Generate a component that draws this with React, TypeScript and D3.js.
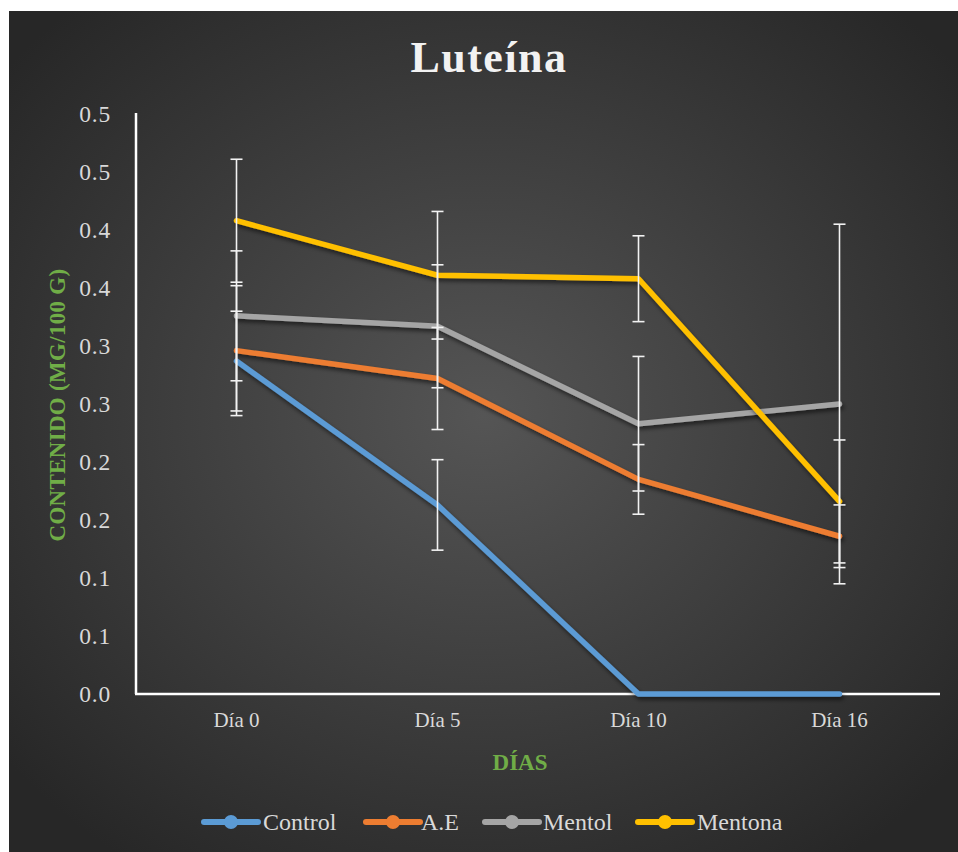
import React from "react";
import * as d3 from "d3";

const categories = ["Día 0", "Día 5", "Día 10", "Día 16"];
const seriesNames = ["Control", "A.E", "Mentol", "Mentona"];
const seriesColors = ["#5B9BD5", "#ED7D31", "#A5A5A5", "#FFC000"];
const controlValues = [0.287, 0.163, 0, 0];
const controlErrors = [0.043, 0.039, 0, 0];
const aeValues = [0.296, 0.272, 0.185, 0.136];
const aeErrors = [0.056, 0.044, 0.030, 0.027];
const mentolValues = [0.326, 0.317, 0.233, 0.250];
const mentolErrors = [0.056, 0.053, 0.058, 0.155];
const mentonaValues = [0.408, 0.361, 0.358, 0.166];
const mentonaErrors = [0.053, 0.055, 0.037, 0.053];
const yTickValues = [0, 0.05, 0.1, 0.15, 0.2, 0.25, 0.3, 0.35, 0.4, 0.45, 0.5];
const yTickLabels = ["0.0", "0.1", "0.1", "0.2", "0.2", "0.3", "0.3", "0.4", "0.4", "0.5", "0.5"];

const W = 958;
const H = 852;
const plot = { left: 136, right: 940, top: 114, bottom: 694 };
const serif = "'Liberation Serif', 'Times New Roman', serif";
const green = "#70AD47";

export default function App() {
  const x = d3.scalePoint<string>().domain(categories).range([plot.left, plot.right]).padding(0.5);
  const y = d3.scaleLinear().domain([0, 0.5]).range([plot.bottom, plot.top]);
  const series = [
    { name: seriesNames[0], color: seriesColors[0], values: controlValues, errors: controlErrors },
    { name: seriesNames[1], color: seriesColors[1], values: aeValues, errors: aeErrors },
    { name: seriesNames[2], color: seriesColors[2], values: mentolValues, errors: mentolErrors },
    { name: seriesNames[3], color: seriesColors[3], values: mentonaValues, errors: mentonaErrors },
  ];
  const line = d3
    .line<number>()
    .x((_, i) => x(categories[i]) as number)
    .y((d) => y(d));

  const legendItems = [
    { lx: 204, tx: 263 },
    { lx: 366, tx: 421 },
    { lx: 485, tx: 543 },
    { lx: 638, tx: 697 },
  ];

  return (
    <div style={{ position: "absolute", left: 0, top: 0 }}>
      <svg width={W} height={H} style={{ display: "block" }}>
        <defs>
          <radialGradient id="bg" cx="50%" cy="48%" r="65%">
            <stop offset="0%" stopColor="#555555" />
            <stop offset="100%" stopColor="#272727" />
          </radialGradient>
          <filter id="shadow" x="-10%" y="-10%" width="120%" height="130%">
            <feDropShadow dx="1.5" dy="3" stdDeviation="2" floodColor="#000" floodOpacity="0.55" />
          </filter>
        </defs>
        <rect x={0} y={0} width={W} height={H} fill="#ffffff" />
        <rect x={9} y={11} width={W - 9} height={H - 11} fill="url(#bg)" />

        <text
          x={489}
          y={72}
          textAnchor="middle"
          fontFamily={serif}
          fontWeight="bold"
          fontSize={44}
          letterSpacing={1.5}
          fill="#F2F2F2"
        >
          Luteína
        </text>

        {/* Y tick labels */}
        {yTickValues.map((v, i) => (
          <text
            key={i}
            x={111}
            y={y(v) + 8}
            textAnchor="end"
            fontFamily={serif}
            fontSize={23.5}
            letterSpacing={0.8}
            fill="#D9D9D9"
          >
            {yTickLabels[i]}
          </text>
        ))}

        {/* X tick labels */}
        {categories.map((c) => (
          <text
            key={c}
            x={x(c) as number}
            y={727}
            textAnchor="middle"
            fontFamily={serif}
            fontSize={21}
            fill="#D9D9D9"
          >
            {c}
          </text>
        ))}

        {/* Axis titles */}
        <text
          transform={`translate(65,405) rotate(-90)`}
          textAnchor="middle"
          fontFamily={serif}
          fontWeight="bold"
          fontSize={23}
          letterSpacing={0.3}
          fill={green}
        >
          CONTENIDO (MG/100 G)
        </text>
        <text x={520} y={770} textAnchor="middle" fontFamily={serif} fontWeight="bold" fontSize={23} fill={green}>
          DÍAS
        </text>

        {/* Axes */}
        <line x1={plot.left} x2={plot.left} y1={plot.top - 1} y2={plot.bottom} stroke="#ffffff" strokeWidth={2.5} />
        <line x1={plot.left - 1} x2={plot.right} y1={plot.bottom} y2={plot.bottom} stroke="#ffffff" strokeWidth={2.5} />

        {/* Lines */}
        {series.map((s) => (
          <path
            key={s.name}
            d={line(s.values) as string}
            fill="none"
            stroke={s.color}
            strokeWidth={5.5}
            strokeLinecap="round"
            strokeLinejoin="round"
            filter="url(#shadow)"
          />
        ))}

        {/* Error bars */}
        {series.map((s) =>
          s.values.map((v, i) => {
            const e = s.errors[i];
            if (!e) return null;
            const cx = x(categories[i]) as number;
            const y1 = y(v + e);
            const y2 = y(v - e);
            return (
              <g key={s.name + i} stroke="#F2F2F2" strokeWidth={1.6}>
                <line x1={cx} x2={cx} y1={y1} y2={y2} />
                <line x1={cx - 6} x2={cx + 6} y1={y1} y2={y1} />
                <line x1={cx - 6} x2={cx + 6} y1={y2} y2={y2} />
              </g>
            );
          })
        )}

        {/* Legend */}
        {series.map((s, i) => {
          const it = legendItems[i];
          return (
            <g key={s.name}>
              <line x1={it.lx} x2={it.lx + 54} y1={822} y2={822} stroke={s.color} strokeWidth={6} strokeLinecap="round" />
              <circle cx={it.lx + 27} cy={822} r={7} fill={s.color} />
              <text x={it.tx} y={830} fontFamily={serif} fontSize={24} fill="#D9D9D9">
                {s.name}
              </text>
            </g>
          );
        })}
      </svg>
    </div>
  );
}
